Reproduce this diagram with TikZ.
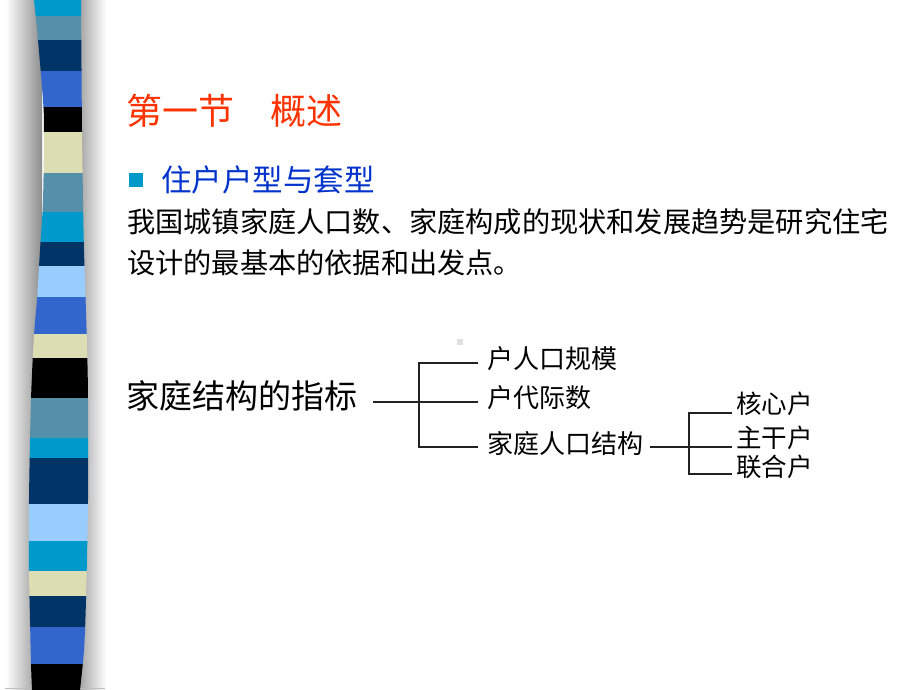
\documentclass[tikz,border=0pt]{standalone}
\usepackage{fontspec}
\setmainfont{Noto Sans CJK SC}
\definecolor{cCyan}{HTML}{0099CC}
\definecolor{cSteel}{HTML}{5590AA}
\definecolor{cNavy}{HTML}{003366}
\definecolor{cRoyal}{HTML}{3366CC}
\definecolor{cBeige}{HTML}{DDDDB4}
\definecolor{cLight}{HTML}{99CCFF}
\definecolor{cTitle}{HTML}{FF3300}
\definecolor{cHead}{HTML}{0033CC}
\definecolor{cLine}{HTML}{222222}
\tikzset{
  txt/.style={anchor=west, inner sep=0pt, text=black},
  conn/.style={draw=cLine, line width=1.1pt},
}
\newcommand{\fs}[1]{\fontsize{#1pt}{#1pt}\selectfont}
\begin{document}
\begin{tikzpicture}[x=1pt,y=-1pt]
\useasboundingbox (0,0) rectangle (920,690);
\fill[white] (0,0) rectangle (920,690);
% shadows of the stripe bar
\shade[left color=white, right color=black!45] (6,0) rectangle (42,690);
\shade[left color=black!35, right color=white] (80,0) rectangle (106,690);
\draw[black!25, line width=1pt] (5,688) -- (105,688);
% stripe bar
\begin{scope}
\clip plot[smooth] coordinates {(34,0) (38,40) (43,100) (44,130) (43,200) (40,250) (37,300) (34,335) (31,400) (29,500) (29,570) (30,620) (31,664) (32,690)}
  -- plot[smooth] coordinates {(80,690) (84,650) (86,600) (88,500) (88,400) (87,345) (84,250) (83,200) (82,130) (81,0)} -- cycle;
\foreach \a/\b/\c in {0/16/cCyan,16/40/cSteel,40/71/cNavy,71/107/cRoyal,107/132/black,132/173/cBeige,173/212/cSteel,212/242/cCyan,242/266/cNavy,266/297/cLight,297/334/cRoyal,334/358/cBeige,358/398/black,398/438/cSteel,438/458/cCyan,458/504/cNavy,504/541/cLight,541/571/cCyan,571/596/cBeige,596/627/cNavy,627/664/cRoyal,664/691/black}
  \fill[\c] (20,\a) rectangle (100,\b);
\end{scope}
% texts
\node[txt, text=cTitle, font=\fs{36}] (title) at (126,111) {第一节　概述};
\node[fill=cCyan, minimum size=14pt, inner sep=0pt] (bullet) at (136,180) {};
\node[txt, text=cHead, font=\fs{30.5}] (head) at (161,180) {住户户型与套型};
\node[txt, font=\fs{28.2}] (body1) at (127,222) {我国城镇家庭人口数、家庭构成的现状和发展趋势是研究住宅};
\node[txt, font=\fs{28.2}] (body2) at (127,263) {设计的最基本的依据和出发点。};
\node[fill=black!12, minimum size=6pt, inner sep=0pt] (dot) at (460,342) {};
% tree
\node[txt, font=\fs{33}] (root) at (126,396) {家庭结构的指标};
\node[txt, font=\fs{26}] (n1) at (487,359) {户人口规模};
\node[txt, font=\fs{26}] (n2) at (487,398) {户代际数};
\node[txt, font=\fs{26}] (n3) at (487,444) {家庭人口结构};
\node[txt, font=\fs{25.5}] (c1) at (736,404) {核心户};
\node[txt, font=\fs{25.5}] (c2) at (736,438) {主干户};
\node[txt, font=\fs{25.5}] (c3) at (736,467) {联合户};
\coordinate (r0) at (373,402);
\coordinate (r1) at (478,402);
\coordinate (t1) at (478,363);
\coordinate (t3) at (478,447);
\coordinate (v1) at (419,363);
\coordinate (v3) at (419,447);
\draw[conn] (r0) -- (r1);
\draw[conn] (t1) -- (v1) -- (v3) -- (t3);
\coordinate (s0) at (650,447);
\coordinate (s1) at (732,447);
\coordinate (u1) at (732,413);
\coordinate (u3) at (732,474);
\coordinate (w1) at (689,413);
\coordinate (w3) at (689,474);
\draw[conn] (s0) -- (s1);
\draw[conn] (u1) -- (w1) -- (w3) -- (u3);
\end{tikzpicture}
\end{document}
